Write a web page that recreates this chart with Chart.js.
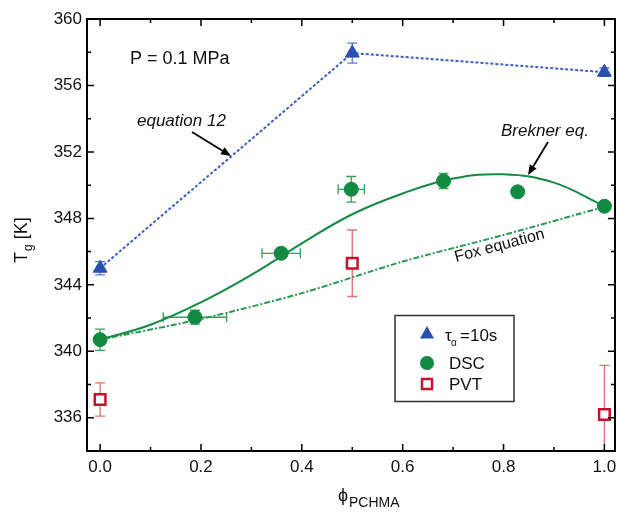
<!DOCTYPE html>
<html>
<head>
<meta charset="utf-8">
<script src="https://cdn.jsdelivr.net/npm/chart.js@4.4.1/dist/chart.umd.min.js"></script>
<style>
  html, body { margin: 0; padding: 0; background: #fff; }
  #wrap { width: 618px; height: 512px; }
</style>
</head>
<body>
<div id="wrap"><canvas id="tgChart" width="618" height="512"></canvas></div>
<script>
// tau_alpha = 10 s
const tauPhi = [0.0, 0.5, 1.0];
const tauTg = [345.0, 357.95, 356.8];
const tauErr = [0.4, 0.6, 0.25];

// DSC
const dscPhi = [0.0, 0.188, 0.359, 0.498, 0.681, 0.828, 1.0];
const dscTg = [340.7, 342.05, 345.9, 349.75, 350.25, 349.6, 348.73];
const dscErr = [0.64, 0.42, 0.2, 0.77, 0.45, 0, 0];
const dscPhiErr = [0, 0.063, 0.038, 0.026, 0, 0, 0];

// PVT
const pvtPhi = [0.0, 0.5, 1.0];
const pvtTg = [337.1, 345.3, 336.2];
const pvtErr = [1.0, 2.0, 2.95];

// Brekner eq. curve
const breknerPhi = [0.0, 0.1, 0.2, 0.3, 0.4, 0.5, 0.6, 0.7, 0.8, 0.9, 1.0];
const breknerTg = [340.7, 341.6, 342.95, 344.6, 346.5, 348.25, 349.5, 350.4, 350.65, 350.15, 348.73];

// Fox equation
const foxPhi = [0.0, 0.2, 0.4, 0.6, 0.8, 1.0];
const foxTg = [340.7, 341.95, 343.5, 345.4, 347.0, 348.7];

const xTicks = [0.0, 0.2, 0.4, 0.6, 0.8, 1.0];
const yTicks = [336, 340, 344, 348, 352, 356, 360];

const FONT = 'Arial, "Liberation Sans", Helvetica, sans-serif';
Chart.defaults.font.family = FONT;

const blue = '#2b4fae';
const blueLine = '#3b5fc9';
const green = '#128a42';
const greenLight = '#3a9e5e';
const red = '#c8102e';
const redLight = '#e0706e';

const pts = (xs, ys) => xs.map((v, i) => ({ x: v, y: ys[i] }));

// error bars, drawn under the markers
const errorBars = {
  id: 'errorBars',
  beforeDatasetsDraw(chart) {
    const { ctx, chartArea: a, scales: { x, y } } = chart;
    ctx.save();
    ctx.beginPath();
    ctx.rect(a.left, a.top, a.right - a.left, a.bottom - a.top);
    ctx.clip();
    ctx.lineWidth = 1.3;
    const cap = 5;
    const vbar = (px, py, e, col) => {
      if (!e) return;
      const cx = x.getPixelForValue(px);
      const y1 = y.getPixelForValue(py - e), y2 = y.getPixelForValue(py + e);
      ctx.strokeStyle = col;
      ctx.beginPath();
      ctx.moveTo(cx, y1); ctx.lineTo(cx, y2);
      ctx.moveTo(cx - cap, y1); ctx.lineTo(cx + cap, y1);
      ctx.moveTo(cx - cap, y2); ctx.lineTo(cx + cap, y2);
      ctx.stroke();
    };
    const hbar = (px, py, e, col) => {
      if (!e) return;
      const cy = y.getPixelForValue(py);
      const x1 = x.getPixelForValue(px - e), x2 = x.getPixelForValue(px + e);
      ctx.strokeStyle = col;
      ctx.beginPath();
      ctx.moveTo(x1, cy); ctx.lineTo(x2, cy);
      ctx.moveTo(x1, cy - cap); ctx.lineTo(x1, cy + cap);
      ctx.moveTo(x2, cy - cap); ctx.lineTo(x2, cy + cap);
      ctx.stroke();
    };
    tauPhi.forEach((p, i) => vbar(p, tauTg[i], tauErr[i], '#5a78d0'));
    dscPhi.forEach((p, i) => {
      vbar(p, dscTg[i], dscErr[i], greenLight);
      hbar(p, dscTg[i], dscPhiErr[i], greenLight);
    });
    pvtPhi.forEach((p, i) => vbar(p, pvtTg[i], pvtErr[i], redLight));
    ctx.restore();
  }
};

// frame, inward ticks, titles, notes and legend
const decorations = {
  id: 'decorations',
  afterDraw(chart) {
    const { ctx, chartArea: a, scales: { x, y } } = chart;
    ctx.save();
    ctx.strokeStyle = '#000';
    ctx.lineWidth = 2;
    ctx.strokeRect(a.left, a.top, a.right - a.left, a.bottom - a.top);

    ctx.lineWidth = 1.5;
    ctx.beginPath();
    xTicks.forEach((v, i) => {
      const px = x.getPixelForValue(v);
      ctx.moveTo(px, a.bottom); ctx.lineTo(px, a.bottom - 7);
      ctx.moveTo(px, a.top); ctx.lineTo(px, a.top + 7);
      if (i < xTicks.length - 1) {
        const mx = x.getPixelForValue((v + xTicks[i + 1]) / 2);
        ctx.moveTo(mx, a.bottom); ctx.lineTo(mx, a.bottom - 4);
        ctx.moveTo(mx, a.top); ctx.lineTo(mx, a.top + 4);
      }
    });
    yTicks.forEach((v, i) => {
      const py = y.getPixelForValue(v);
      ctx.moveTo(a.left, py); ctx.lineTo(a.left + 7, py);
      ctx.moveTo(a.right, py); ctx.lineTo(a.right - 7, py);
      const mv = i === 0 ? v - 2 : (v + yTicks[i - 1]) / 2;
      const my = y.getPixelForValue(mv);
      ctx.moveTo(a.left, my); ctx.lineTo(a.left + 4, my);
      ctx.moveTo(a.right, my); ctx.lineTo(a.right - 4, my);
    });
    ctx.stroke();

    ctx.fillStyle = '#111';
    ctx.textBaseline = 'alphabetic';
    ctx.textAlign = 'left';

    // axis titles
    ctx.save();
    ctx.translate(27, 263);
    ctx.rotate(-Math.PI / 2);
    ctx.font = '18px ' + FONT;
    ctx.fillText('T', 0, 0);
    let w = ctx.measureText('T').width;
    ctx.font = '12px ' + FONT;
    ctx.fillText('g', w + 1, 5);
    w += ctx.measureText('g').width + 1;
    ctx.font = '18px ' + FONT;
    ctx.fillText(' [K]', w, 0);
    ctx.restore();

    ctx.font = '18px ' + FONT;
    ctx.fillText('ϕ', 338, 501);
    ctx.font = '14px ' + FONT;
    ctx.fillText('PCHMA', 349, 507);

    // notes
    ctx.font = '18px ' + FONT;
    ctx.fillText('P = 0.1 MPa', 130, 64);
    ctx.font = 'italic 17px ' + FONT;
    ctx.fillText('equation 12', 137, 126);
    ctx.fillText('Brekner eq.', 501, 136);

    ctx.save();
    ctx.translate(456, 262);
    ctx.rotate(-14.9 * Math.PI / 180);
    ctx.font = '16px ' + FONT;
    ctx.fillText('Fox equation', 0, 0);
    ctx.restore();

    const arrow = (x1, y1, x2, y2) => {
      const ang = Math.atan2(y2 - y1, x2 - x1);
      const hl = 10, hw = 4;
      const bx = x2 - hl * Math.cos(ang), by = y2 - hl * Math.sin(ang);
      ctx.strokeStyle = '#000';
      ctx.lineWidth = 1.8;
      ctx.beginPath();
      ctx.moveTo(x1, y1); ctx.lineTo(bx, by);
      ctx.stroke();
      ctx.fillStyle = '#000';
      ctx.beginPath();
      ctx.moveTo(x2, y2);
      ctx.lineTo(bx + hw * Math.sin(ang), by - hw * Math.cos(ang));
      ctx.lineTo(bx - hw * Math.sin(ang), by + hw * Math.cos(ang));
      ctx.closePath();
      ctx.fill();
    };
    arrow(192, 132, 231, 156);
    arrow(548, 142, 528, 175);

    // legend
    ctx.strokeStyle = '#333';
    ctx.lineWidth = 1.5;
    ctx.strokeRect(395, 315.5, 119, 86);

    ctx.fillStyle = blue;
    ctx.beginPath();
    ctx.moveTo(427, 326); ctx.lineTo(434, 338.5); ctx.lineTo(420, 338.5);
    ctx.closePath();
    ctx.fill();

    ctx.fillStyle = green;
    ctx.beginPath();
    ctx.arc(427, 363, 7, 0, Math.PI * 2);
    ctx.fill();

    ctx.fillStyle = '#fff';
    ctx.strokeStyle = red;
    ctx.lineWidth = 2.5;
    ctx.fillRect(422, 379, 10, 10);
    ctx.strokeRect(422, 379, 10, 10);

    ctx.fillStyle = '#111';
    ctx.font = '17px ' + FONT;
    ctx.fillText('τ', 445, 341);
    ctx.font = '10px ' + FONT;
    ctx.fillText('α', 451, 346);
    ctx.font = '17px ' + FONT;
    ctx.fillText('=10s', 460, 341);
    ctx.fillText('DSC', 449, 368.5);
    ctx.fillText('PVT', 449, 389.5);
    ctx.restore();
  }
};

new Chart(document.getElementById('tgChart'), {
  type: 'scatter',
  data: {
    datasets: [
      {
        label: 'τα=10s',
        data: pts(tauPhi, tauTg),
        showLine: true,
        borderColor: blueLine,
        borderWidth: 2,
        borderDash: [3, 2],
        pointStyle: 'triangle',
        pointRadius: 8,
        pointBackgroundColor: blue,
        pointBorderColor: blue,
        pointBorderWidth: 1
      },
      {
        label: 'DSC',
        data: pts(dscPhi, dscTg),
        pointStyle: 'circle',
        pointRadius: 7,
        pointBackgroundColor: green,
        pointBorderColor: green,
        pointBorderWidth: 1
      },
      {
        label: 'PVT',
        data: pts(pvtPhi, pvtTg),
        pointStyle: 'rect',
        pointRadius: 7.5,
        pointBackgroundColor: '#fff',
        pointBorderColor: red,
        pointBorderWidth: 2.5
      },
      {
        label: 'Brekner eq.',
        data: pts(breknerPhi, breknerTg),
        showLine: true,
        tension: 0.4,
        borderColor: green,
        borderWidth: 2,
        pointRadius: 0
      },
      {
        label: 'Fox equation',
        data: pts(foxPhi, foxTg),
        showLine: true,
        tension: 0.3,
        borderColor: '#2a9a52',
        borderWidth: 2,
        borderDash: [6, 2, 2, 2],
        pointRadius: 0
      }
    ]
  },
  options: {
    responsive: false,
    animation: false,
    layout: { autoPadding: false, padding: { top: 19, right: 3, left: 0, bottom: 0 } },
    plugins: {
      legend: { display: false },
      tooltip: { enabled: false }
    },
    scales: {
      x: {
        type: 'linear',
        min: -0.026,
        max: 1.021,
        afterBuildTicks: (s) => { s.ticks = xTicks.map((v) => ({ value: v })); },
        afterFit: (s) => {
          s.height = 61;
          s.paddingLeft = 0;
          s.paddingRight = 0;
        },
        grid: { display: false, drawTicks: false },
        border: { display: false },
        ticks: {
          color: '#111',
          font: { size: 17 },
          padding: 6,
          maxRotation: 0,
          autoSkip: false,
          callback: (v) => Number(v).toFixed(1)
        }
      },
      y: {
        type: 'linear',
        min: 334,
        max: 360,
        afterBuildTicks: (s) => { s.ticks = yTicks.map((v) => ({ value: v })); },
        afterFit: (s) => {
          s.width = 87;
          s.paddingTop = 0;
          s.paddingBottom = 0;
        },
        grid: { display: false, drawTicks: false },
        border: { display: false },
        ticks: {
          color: '#111',
          font: { size: 17 },
          padding: 5,
          autoSkip: false,
          callback: (v) => String(v)
        }
      }
    }
  },
  plugins: [errorBars, decorations]
});
</script>
</body>
</html>
